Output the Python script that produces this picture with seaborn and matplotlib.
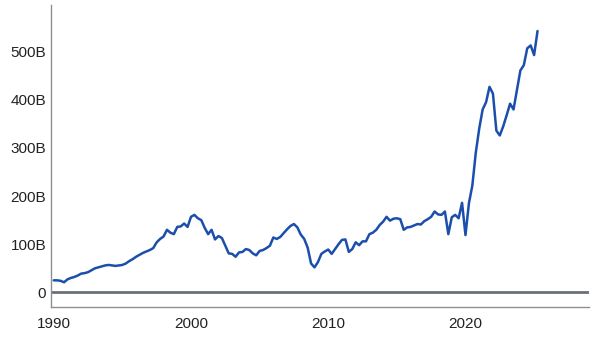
import numpy as np
import pandas as pd
import matplotlib
matplotlib.use("Agg")
import matplotlib.pyplot as plt
import seaborn as sns

start_year = 1990
values_billion = [
    25, 25, 24, 21, 27, 30, 32, 35, 39, 40, 42, 46, 50, 52, 54, 56,
    57, 56, 55, 56, 57, 60, 65, 69, 74, 78, 82, 85, 88, 92, 104, 111,
    116, 130, 124, 121, 136, 137, 143, 136, 157, 161, 154, 150, 134, 121, 130, 110,
    117, 113, 97, 81, 80, 74, 83, 84, 90, 88, 81, 77, 86, 88, 92, 97,
    114, 111, 115, 123, 131, 138, 142, 135, 120, 111, 93, 60, 52, 63, 80, 85,
    89, 80, 90, 100, 109, 110, 84, 90, 104, 98, 106, 106, 121, 124, 130, 140,
    147, 157, 149, 153, 154, 152, 130, 135, 136, 139, 142, 141, 148, 152, 157, 168,
    162, 161, 168, 121, 156, 161, 154, 186, 119, 185, 222, 290, 340, 380, 395, 427,
    413, 336, 326, 345, 368, 392, 380, 420, 461, 472, 507, 513, 493, 543,
]
y_ticks = [0, 100, 200, 300, 400, 500]
y_tick_labels = ["0", "100B", "200B", "300B", "400B", "500B"]
x_ticks = [1990, 2000, 2010, 2020]
x_tick_labels = ["1990", "2000", "2010", "2020"]

years = [start_year + i / 4 for i in range(len(values_billion))]
df = pd.DataFrame({"year": years, "value": values_billion})

sns.set_theme(style="white")
plt.rcParams["font.family"] = ["Liberation Sans", "DejaVu Sans"]

fig = plt.figure(figsize=(6.01, 3.38), dpi=100)
ax = fig.add_axes([51 / 601, 1 - 307.3 / 338, (589 - 51) / 601, (307.3 - 5) / 338])

ax.axhline(0, color="#6b7078", lw=2.0, zorder=1)
sns.lineplot(data=df, x="year", y="value", ax=ax, color="#1b4fab", lw=1.8, zorder=3)

ax.set_xlim(1989.8, 2029.0)
ax.set_ylim(-31, 597)
ax.set_xticks(x_ticks)
ax.set_xticklabels(x_tick_labels)
ax.set_yticks(y_ticks)
ax.set_yticklabels(y_tick_labels)
ax.set_xlabel("")
ax.set_ylabel("")
ax.tick_params(axis="both", length=0, labelsize=11, colors="#222222")
ax.tick_params(axis="x", pad=7)
ax.tick_params(axis="y", pad=3.5)
for side in ["top", "right"]:
    ax.spines[side].set_visible(False)
for side in ["left", "bottom"]:
    ax.spines[side].set_visible(True)
    ax.spines[side].set_color("#8a8f96")
    ax.spines[side].set_linewidth(1.0)
ax.grid(False)

fig.savefig("out.png", dpi=100)
